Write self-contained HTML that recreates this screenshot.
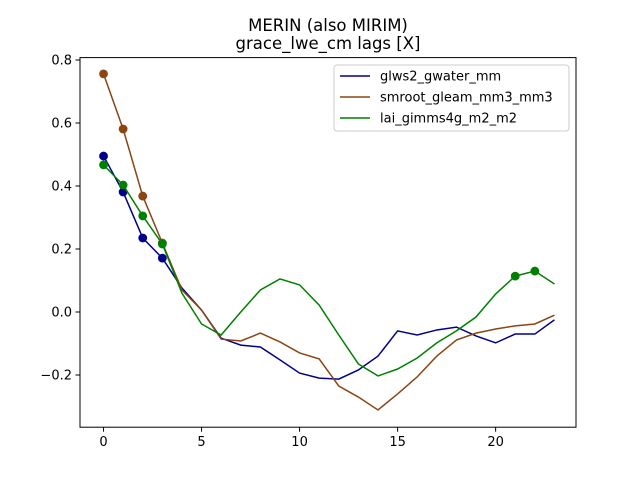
<!DOCTYPE html>
<html><head><meta charset="utf-8"><style>
body{margin:0;background:#fff}
svg text{font-family:"DejaVu Sans","Liberation Sans",sans-serif;fill:#000}
</style></head><body>
<svg id="chart" width="640" height="480" xmlns="http://www.w3.org/2000/svg">
<rect width="640" height="480" fill="#fff"/>
<text x="328" y="31" text-anchor="middle" font-size="16.5">MERIN (also MIRIM)</text>
<text x="328" y="49" text-anchor="middle" font-size="16.5">grace_lwe_cm lags [X]</text>
<g id="plot"></g>
<rect x="80" y="57.6" width="496" height="369.6" fill="none" stroke="#000" stroke-width="1"/>
<g id="legend">
<rect x="334" y="65" width="235" height="66" rx="3" fill="#fff" fill-opacity="0.8" stroke="#ccc"/>
</g>
</svg>
<script>
const lags=[0,1,2,3,4,5,6,7,8,9,10,11,12,13,14,15,16,17,18,19,20,21,22,23];
const glws=[0.495,0.381,0.235,0.171,0.076,0.006,-0.083,-0.105,-0.111,-0.152,-0.194,-0.21,-0.213,-0.184,-0.14,-0.06,-0.073,-0.057,-0.048,-0.076,-0.098,-0.07,-0.07,-0.025];
const smroot=[0.756,0.581,0.368,0.219,0.07,0.006,-0.086,-0.092,-0.067,-0.095,-0.13,-0.149,-0.235,-0.27,-0.311,-0.26,-0.206,-0.14,-0.089,-0.067,-0.054,-0.044,-0.038,-0.01];
const lai=[0.467,0.403,0.305,0.216,0.06,-0.038,-0.073,0,0.07,0.105,0.086,0.022,-0.073,-0.165,-0.203,-0.181,-0.146,-0.098,-0.06,-0.016,0.057,0.114,0.13,0.089];
const glwsMarks=[0,1,2,3];
const smrootMarks=[0,1,2,3];
const laiMarks=[0,1,2,3,21,22];
const xTicks=[0,5,10,15,20];
const yTicks=[-0.2,0,0.2,0.4,0.6,0.8];
const yTickLabels=["\u22120.2","0.0","0.2","0.4","0.6","0.8"];
const seriesNames=["glws2_gwater_mm","smroot_gleam_mm3_mm3","lai_gimms4g_m2_m2"];

const NS="http://www.w3.org/2000/svg";
const L=80,R=576,T=57.6,B=427.2;
const xMin=-1.2,xMax=24.1,yMin=-0.3657,yMax=0.8076;
const xs=v=>L+(v-xMin)/(xMax-xMin)*(R-L);
const ys=v=>B-(v-yMin)/(yMax-yMin)*(B-T);
const g=document.getElementById('plot');
function mk(t,a,p){const e=document.createElementNS(NS,t);for(const k in a)e.setAttribute(k,a[k]);(p||g).appendChild(e);return e;}

xTicks.forEach(v=>{
  const l=mk('line',{x1:xs(v),x2:xs(v),y1:B,y2:B+4.5,stroke:'#000'});
  
  
  const t=mk('text',{x:xs(v),y:B+19,'text-anchor':'middle','font-size':'13'});
  t.textContent=v;
  
  
});
yTicks.forEach((v,i)=>{
  const l=mk('line',{x1:L-4.5,x2:L,y1:ys(v),y2:ys(v),stroke:'#000'});
  
  
  const t=mk('text',{x:L-8,y:ys(v)+4.5,'text-anchor':'end','font-size':'13'});
  t.textContent=yTickLabels[i];
  
  
});
const series=[[glws,glwsMarks,'#00008b','glws2-line'],[smroot,smrootMarks,'#8b4513','smroot-line'],[lai,laiMarks,'#008000','lai-line']];
series.forEach(([d,m,c,n])=>{
  const p=mk('polyline',{points:d.map((v,i)=>xs(lags[i])+','+ys(v)).join(' '),fill:'none',stroke:c,'stroke-width':1.5});
  
  
  m.forEach(i=>{
    const ci=mk('circle',{cx:xs(lags[i]),cy:ys(d[i]),r:4.4,fill:c});
    
    
  });
});
const lg=document.getElementById('legend');
series.forEach(([d,m,c],i)=>{
  const y=76+i*21;
  const l=mk('line',{x1:340,x2:370,y1:y,y2:y,stroke:c,'stroke-width':1.5},lg);
  
  
  const t=mk('text',{x:380,y:y+4.5,'font-size':'13'},lg);
  t.textContent=seriesNames[i];
  
  
});
</script>
</body></html>
